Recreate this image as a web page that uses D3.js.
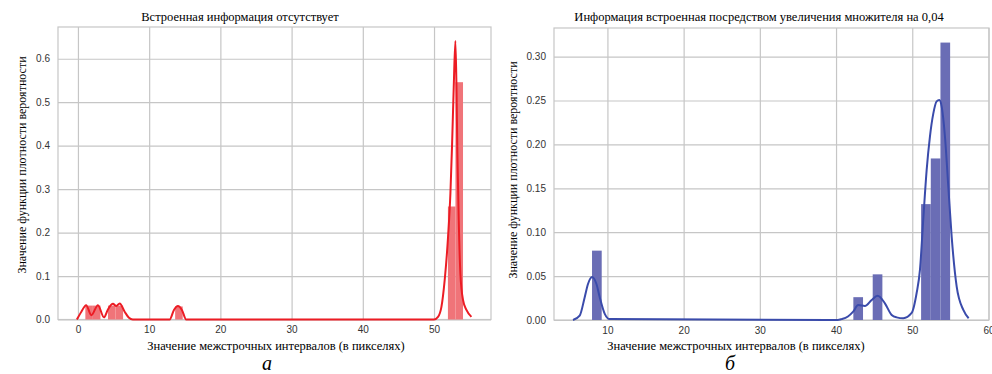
<!DOCTYPE html>
<html>
<head>
<meta charset="utf-8">
<script src="https://cdn.jsdelivr.net/npm/d3@7"></script>
<style>
  body { margin: 0; background: #fff; }
  svg { display: block; }
</style>
</head>
<body>
<svg width="992" height="374"></svg>
<script>
// данные
const leftBinWidth = 1.06
const leftBinX0 = [1.04, 2.10, 4.22, 5.28, 13.65, 51.95, 53.01]
const leftBinDensity = [0.032, 0.032, 0.032, 0.032, 0.030, 0.26, 0.546]

const leftKdeX = [-0.15, 0.48, 1.15, 1.88, 2.81, 3.65, 4.21, 4.92, 5.39, 5.86, 6.56, 7.16, 7.7,
    12.88, 13.48, 14.04, 14.6, 15.2, 50.0, 50.56, 51.04, 51.5, 51.97, 52.3, 52.53, 52.77,
    53.0, 53.15, 53.28, 53.47, 53.7, 54.07, 54.55, 55.25]
const leftKdeY = [0, 0.018, 0.033, 0.010, 0.033, 0.005, 0.023, 0.036, 0.031, 0.037, 0.018, 0.004, 0,
    0, 0.022, 0.031, 0.022, 0, 0, 0.006, 0.029, 0.091, 0.19, 0.29, 0.40, 0.536,
    0.641, 0.536, 0.382, 0.229, 0.106, 0.045, 0.022, 0.006]

const rightBinWidth = 1.27
const rightBinX0 = [7.98, 42.27, 44.81, 51.16, 52.43, 53.70]
const rightBinDensity = [0.079, 0.026, 0.052, 0.132, 0.184, 0.316]

const rightKdeX = [5.48, 6.36, 7.02, 7.45, 7.98, 8.56, 8.99, 9.65, 10.3, 40.2, 40.73, 41.56, 42.25,
    42.91, 43.79, 44.67, 45.46, 46.41, 47.3, 47.95, 48.82, 49.92, 50.58, 51.01, 51.44, 51.89,
    52.32, 52.76, 53.2, 53.55, 53.86, 54.29, 54.73, 55.17, 55.83, 56.7, 57.4]
const rightKdeY = [0, 0.005, 0.026, 0.041, 0.049, 0.041, 0.026, 0.007, 0.001, 0, 0.001, 0.004, 0.0095,
    0.017, 0.016, 0.0228, 0.0277, 0.019, 0.0057, 0.003, 0.002, 0.008, 0.031, 0.057, 0.114, 0.171,
    0.209, 0.235, 0.249, 0.2505, 0.243, 0.209, 0.152, 0.095, 0.038, 0.0114, 0.002]

const leftXTicks = [0, 10, 20, 30, 40, 50]
const leftYTicks = [0, 0.1, 0.2, 0.3, 0.4, 0.5, 0.6]
const rightXTicks = [10, 20, 30, 40, 50, 60]
const rightYTicks = [0, 0.05, 0.10, 0.15, 0.20, 0.25, 0.30]

const xLabel = 'Значение межстрочных интервалов (в пикселях)'
const yLabel = 'Значение функции плотности вероятности'

const svg = d3.select('svg')
svg.append('rect').attr('width', 992).attr('height', 374).attr('fill', '#fff')

const grid = '#c6c6c6'
const serif = '"Liberation Serif", "DejaVu Serif", serif'
const sans = '"Liberation Sans", Arial, sans-serif'

function panel(cfg) {
    const x = d3.scaleLinear().domain(cfg.xDomain).range([cfg.left, cfg.right])
    const y = d3.scaleLinear().domain(cfg.yDomain).range([cfg.bottom, cfg.top])
    const g = svg.append('g')
    const h = cfg.bottom - cfg.top
    const w = cfg.right - cfg.left

    // сетка + подписи по x
    const ax = g.append('g').attr('transform', `translate(0,${cfg.bottom})`)
        .call(d3.axisBottom(x).tickValues(cfg.xTicks).tickSize(-h).tickPadding(6.5).tickFormat(d3.format('d')))
    // сетка + подписи по y
    const ay = g.append('g').attr('transform', `translate(${cfg.left},0)`)
        .call(d3.axisLeft(y).tickValues(cfg.yTicks).tickSize(-w).tickPadding(8).tickFormat(d3.format(cfg.yFmt)))
    for (const a of [ax, ay]) {
        a.select('.domain').remove()
        a.selectAll('line').attr('stroke', grid).attr('stroke-width', 1.2)
        a.selectAll('text').attr('font-family', sans).attr('font-size', 10).attr('fill', '#333')
    }

    // рамка
    g.append('rect').attr('x', cfg.left).attr('y', cfg.top).attr('width', w).attr('height', h)
        .attr('fill', 'none').attr('stroke', grid).attr('stroke-width', 1.2)

    // столбцы гистограммы
    g.append('g').selectAll('rect').data(cfg.binX0).enter().append('rect')
        .attr('x', d => x(d))
        .attr('width', d => x(d + cfg.binWidth) - x(d))
        .attr('y', (d, i) => y(cfg.binDensity[i]))
        .attr('height', (d, i) => y(0) - y(cfg.binDensity[i]))
        .attr('fill', cfg.barColor)

    // кривая плотности
    const line = d3.line().x(d => x(d[0])).y(d => y(d[1])).curve(d3.curveMonotoneX)
    g.append('path').datum(d3.zip(cfg.kdeX, cfg.kdeY))
        .attr('d', line).attr('fill', 'none')
        .attr('stroke', cfg.lineColor).attr('stroke-width', 2)

    // тексты
    g.append('text').attr('x', cfg.titleX).attr('y', 21).attr('text-anchor', 'middle')
        .attr('font-family', serif).attr('font-size', 12.5).text(cfg.title)
    g.append('text').attr('x', cfg.xLabelX).attr('y', 350).attr('text-anchor', 'middle')
        .attr('font-family', serif).attr('font-size', 12.5).text(xLabel)
    g.append('text').attr('transform', `translate(${cfg.yLabelX},${cfg.yLabelY}) rotate(-90)`)
        .attr('text-anchor', 'middle').attr('font-family', serif).attr('font-size', 12)
        .text(yLabel)
    g.append('text').attr('x', cfg.letterX).attr('y', 370).attr('text-anchor', 'middle')
        .attr('font-family', serif).attr('font-style', 'italic').attr('font-size', 20)
        .text(cfg.letter)
}

panel({
    left: 58, right: 491, top: 27, bottom: 319.5,
    xDomain: [-2.8, 58.0], yDomain: [0, 0.673],
    xTicks: leftXTicks, yTicks: leftYTicks, yFmt: '.1f',
    binX0: leftBinX0, binDensity: leftBinDensity, binWidth: leftBinWidth,
    kdeX: leftKdeX, kdeY: leftKdeY,
    barColor: '#f07479', lineColor: '#ec1c24',
    title: 'Встроенная информация отсутствует', titleX: 240,
    xLabelX: 276, yLabelX: 26, yLabelY: 165, letterX: 267, letter: 'а'
})

panel({
    left: 554, right: 989, top: 28, bottom: 320,
    xDomain: [2.99, 60.07], yDomain: [0, 0.3326],
    xTicks: rightXTicks, yTicks: rightYTicks, yFmt: '.2f',
    binX0: rightBinX0, binDensity: rightBinDensity, binWidth: rightBinWidth,
    kdeX: rightKdeX, kdeY: rightKdeY,
    barColor: '#6a6db5', lineColor: '#3a4bab',
    title: 'Информация встроенная посредством увеличения множителя на 0,04', titleX: 759,
    xLabelX: 736, yLabelX: 517, yLabelY: 170, letterX: 730, letter: 'б'
})
</script>
</body>
</html>
